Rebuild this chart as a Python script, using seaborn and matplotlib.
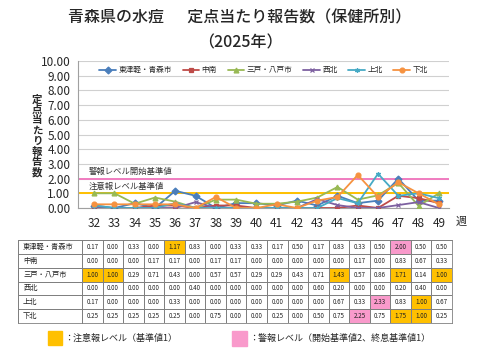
import numpy as np
import pandas as pd
import matplotlib
matplotlib.use('Agg')
import matplotlib.pyplot as plt
import seaborn as sns
from matplotlib.colors import ListedColormap
from matplotlib.patches import Rectangle

# Weekly reports per sentinel site, weeks 32-49 of 2025
weeks = list(range(32, 50))
regions = ['東津軽・青森市', '中南', '三戸・八戸市', '西北', '上北', '下北']
higashi_aomori = [0.17, 0.00, 0.33, 0.00, 1.17, 0.83, 0.00, 0.33, 0.33, 0.17, 0.50, 0.17, 0.83, 0.33, 0.50, 2.00, 0.50, 0.50]
chunan = [0.00, 0.00, 0.00, 0.17, 0.17, 0.00, 0.17, 0.17, 0.00, 0.00, 0.00, 0.00, 0.00, 0.17, 0.00, 0.83, 0.67, 0.33]
sannohe_hachinohe = [1.00, 1.00, 0.29, 0.71, 0.43, 0.00, 0.57, 0.57, 0.29, 0.29, 0.43, 0.71, 1.43, 0.57, 0.86, 1.71, 0.14, 1.00]
seihoku = [0.00, 0.00, 0.00, 0.00, 0.00, 0.40, 0.00, 0.00, 0.00, 0.00, 0.00, 0.60, 0.20, 0.00, 0.00, 0.20, 0.40, 0.00]
kamikita = [0.17, 0.00, 0.00, 0.00, 0.33, 0.00, 0.00, 0.00, 0.00, 0.00, 0.00, 0.00, 0.67, 0.33, 2.33, 0.83, 1.00, 0.67]
shimokita = [0.25, 0.25, 0.25, 0.25, 0.25, 0.00, 0.75, 0.00, 0.00, 0.25, 0.00, 0.50, 0.75, 2.25, 0.75, 1.75, 1.00, 0.25]
series = [higashi_aomori, chunan, sannohe_hachinohe, seihoku, kamikita, shimokita]

caution_level = 1.0
alarm_level = 2.0

colors = ['#4A7EBB', '#BE4B48', '#98B954', '#7D60A0', '#46AAC5', '#F69240']
markers = ['D', 's', '^', 'x', (6, 2, 0), 'o']
ORANGE = '#FFC000'
PINK = '#F99ACB'

sns.set_style('white')
plt.rcParams['font.family'] = ['Noto Sans CJK JP', 'DejaVu Sans']

fig = plt.figure(figsize=(4.8, 3.6), dpi=100)

# --- titles ---
fig.text(0.5, 1 - 18 / 360, '青森県の水痘\u3000  定点当たり報告数（保健所別）',
         ha='center', va='center', fontsize=11.5, fontweight='medium')
fig.text(0.5, 1 - 43 / 360, '（2025年）', ha='center', va='center', fontsize=11.5,
         fontweight='medium')

# --- line chart ---
ax = fig.add_axes([78 / 480, 1 - 208 / 360, (449 - 78) / 480, (208 - 61) / 360])
for name, vals, col, mk in zip(regions, series, colors, markers):
    sns.lineplot(x=weeks, y=vals, color=col, marker=mk, label=name,
                 linewidth=1.3, markersize=3.5, markeredgewidth=0.9,
                 markeredgecolor=col, ax=ax, zorder=3)
ax.axhline(alarm_level, color='#F07CC0', lw=1.4, zorder=2)
ax.axhline(caution_level, color=ORANGE, lw=1.4, zorder=2)
ax.text(32 - 0.25, alarm_level + 0.15, '警報レベル開始基準値', fontsize=6, va='bottom', color='#333333')
ax.text(32 - 0.25, caution_level + 0.15, '注意報レベル基準値', fontsize=6, va='bottom', color='#333333')

ax.set_xlim(31.2, 49.5)
ax.set_ylim(0, 10)
ax.set_xticks(weeks)
ax.set_yticks(range(0, 11))
ax.set_yticklabels([f'{v:.2f}' for v in range(0, 11)], fontsize=8.5)
ax.tick_params(axis='x', labelsize=8.5, pad=3)
ax.tick_params(axis='y', pad=2)
ax.grid(axis='y', color='#D0D0D0', lw=0.8)
for side in ['top', 'right']:
    ax.spines[side].set_visible(False)
ax.spines['left'].set_color('#A0A0A0')
ax.spines['bottom'].set_color('#A0A0A0')
ax.set_xlabel('')
ax.set_ylabel('')

handles, labels = ax.get_legend_handles_labels()
ax.legend(handles, labels, loc='upper center', bbox_to_anchor=(0.5, 1.0), ncol=6,
          frameon=False, fontsize=5.5, handlelength=2.2, handletextpad=0.3,
          columnspacing=1.4, borderaxespad=0.3)

fig.text(456 / 480, 1 - 222 / 360, '週', fontsize=8, ha='left', va='center')
fig.text(37 / 480, 1 - 136 / 360, '\n'.join('定点当たり報告数'), fontsize=7.5,
         fontweight='bold', ha='center', va='center', linespacing=1.05)

# --- data table ---
values = np.array(series)
levels = np.where(values >= alarm_level, 2, np.where(values >= caution_level, 1, 0))
cell_text = np.vectorize(lambda v: f'{v:.2f}')(values)

tab_bottom = 1 - 323 / 360
tab_height = (323 - 240) / 360
lab_ax = fig.add_axes([18 / 480, tab_bottom, 64 / 480, tab_height])
sns.heatmap(np.zeros((len(regions), 1)), cmap=ListedColormap(['white']), cbar=False,
            annot=np.array(regions)[:, None], fmt='', annot_kws={'fontsize': 5.2, 'color': '#222222'},
            linewidths=0.6, linecolor='#808080', xticklabels=False, yticklabels=False, ax=lab_ax)
for t in lab_ax.texts:
    t.set_ha('left')
    t.set_x(0.08)

val_ax = fig.add_axes([82 / 480, tab_bottom, 370 / 480, tab_height])
sns.heatmap(levels, cmap=ListedColormap(['white', ORANGE, PINK]), vmin=0, vmax=2, cbar=False,
            annot=cell_text, fmt='', annot_kws={'fontsize': 4.5, 'color': '#222222'},
            linewidths=0.6, linecolor='#808080', xticklabels=False, yticklabels=False, ax=val_ax)
for a in (lab_ax, val_ax):
    for s in a.spines.values():
        s.set_visible(True)
        s.set_color('#808080')
        s.set_linewidth(0.6)

# --- colour key ---
fig.add_artist(Rectangle((48 / 480, 1 - 345 / 360), 14 / 480, 14 / 360,
                         transform=fig.transFigure, color=ORANGE))
fig.text(64 / 480, 1 - 338 / 360, '：注意報レベル（基準値1）', fontsize=6.5, va='center')
fig.add_artist(Rectangle((232 / 480, 1 - 346 / 360), 15 / 480, 15 / 360,
                         transform=fig.transFigure, color=PINK))
fig.text(249 / 480, 1 - 338 / 360, '：警報レベル（開始基準値2、終息基準値1）', fontsize=6.5, va='center')

fig.savefig('out.png', dpi=100)
